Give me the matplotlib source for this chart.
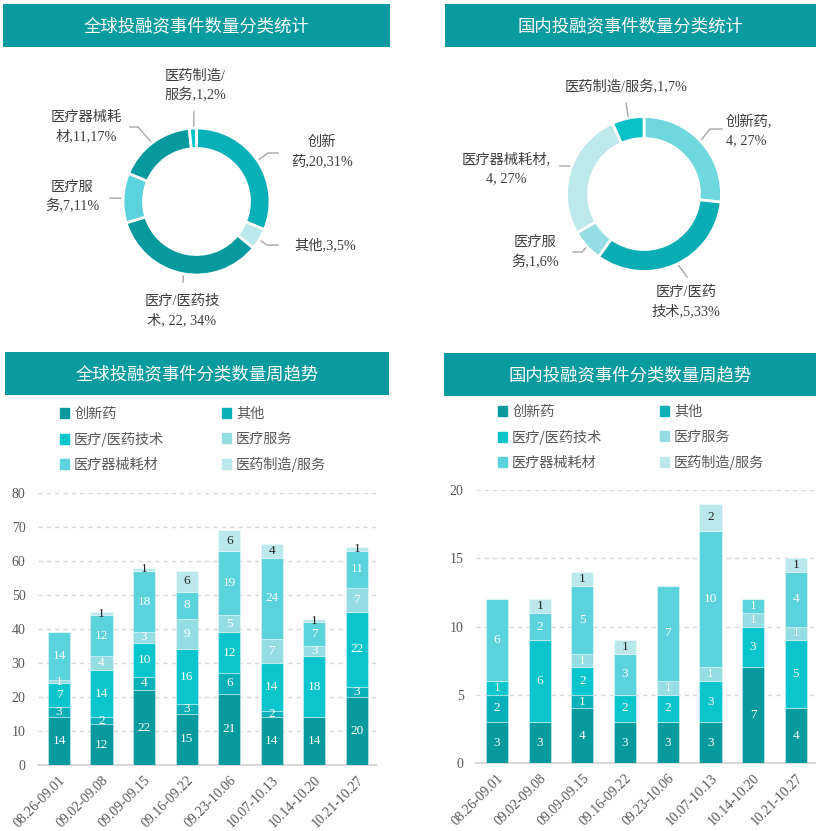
import matplotlib
matplotlib.use('Agg')
import matplotlib.pyplot as plt
from matplotlib.patches import Rectangle, Patch
import numpy as np

# ---------------- data ----------------
categories = ['创新药', '其他', '医疗/医药技术', '医疗服务', '医疗器械耗材', '医药制造/服务']
weeks = ['08.26-09.01', '09.02-09.08', '09.09-09.15', '09.16-09.22',
         '09.23-10.06', '10.07-10.13', '10.14-10.20', '10.21-10.27']

global_innov = [14, 12, 22, 15, 21, 14, 14, 20]
global_other = [3, 2, 4, 3, 6, 2, 0, 3]
global_tech = [7, 14, 10, 16, 12, 14, 18, 22]
global_service = [1, 4, 3, 9, 5, 7, 3, 7]
global_device = [14, 12, 18, 8, 19, 24, 7, 11]
global_mfg = [0, 1, 1, 6, 6, 4, 1, 1]

dom_innov = [3, 3, 4, 3, 3, 3, 7, 4]
dom_other = [2, 0, 1, 0, 0, 0, 0, 0]
dom_tech = [1, 6, 2, 2, 2, 3, 3, 5]
dom_service = [0, 0, 1, 0, 1, 1, 1, 1]
dom_device = [6, 2, 5, 3, 7, 10, 1, 4]
dom_mfg = [0, 1, 1, 1, 0, 2, 0, 1]

# donut (latest week) values
global_pie_cats = ['创新药', '其他', '医疗/医药技术', '医疗服务', '医疗器械耗材', '医药制造/服务']
global_pie_vals = [20, 3, 22, 7, 11, 1]
global_pie_labels = ['创新\n药,20,31%', '其他,3,5%', '医疗/医药技\n术, 22, 34%',
                     '医疗服\n务,7,11%', '医疗器械耗\n材,11,17%', '医药制造/\n服务,1,2%']
dom_pie_cats = ['创新药', '医疗/医药技术', '医疗服务', '医疗器械耗材', '医药制造/服务']
dom_pie_vals = [4, 5, 1, 4, 1]
dom_pie_labels = ['创新药,\n4, 27%', '医疗/医药\n技术,5,33%', '医疗服\n务,1,6%',
                  '医疗器械耗材,\n4, 27%', '医药制造/服务,1,7%']

titles = ['全球投融资事件数量分类统计', '国内投融资事件数量分类统计',
          '全球投融资事件分类数量周趋势', '国内投融资事件分类数量周趋势']

# ---------------- style ----------------
bar_colors = ['#069a9f', '#0ab0b8', '#0bc5cd', '#93dde3', '#5bd3dc', '#bae8ec']
global_pie_colors = ['#0ab0b8', '#bae8ec', '#069a9f', '#5bd3dc', '#069a9f', '#0bc5cd']
dom_pie_colors = ['#6fd8df', '#0aadb3', '#93dde3', '#bde9ed', '#0bc1c9']
banner_color = '#0a9ba0'
txt_color = '#404040'
mixfont = ['Liberation Serif', 'Noto Sans CJK SC', 'DejaVu Sans']
cjk = ['Noto Sans CJK SC', 'DejaVu Sans']

W, H = 819, 831
fig = plt.figure(figsize=(W / 100, H / 100), dpi=100)
fig.patch.set_facecolor('white')


def fbox(x0, y0, x1, y1):
    return [x0 / W, 1 - y1 / H, (x1 - x0) / W, (y1 - y0) / H]


ov = fig.add_axes([0, 0, 1, 1], zorder=0)
ov.set_xlim(0, W)
ov.set_ylim(H, 0)
ov.axis('off')

# banners
banners = [(3, 4, 390, 47), (445, 4, 816, 47), (5, 352, 389, 395), (444, 353, 816, 396)]
for (x0, y0, x1, y1), t in zip(banners, titles):
    ov.add_patch(Rectangle((x0, y0), x1 - x0, y1 - y0, color=banner_color, lw=0))
    ov.text((x0 + x1) / 2, (y0 + y1) / 2 + 1, t, color='white', fontsize=12.5,
            family=cjk, ha='center', va='center')


# ---------------- donuts ----------------
def donut(cx, cy, R, inner, vals, colors, labels, paths, tpos, aligns):
    ax = fig.add_axes(fbox(cx - R, cy - R, cx + R, cy + R), zorder=2)
    width = 1 - inner / R
    ax.pie(vals, colors=colors, startangle=90, counterclock=False, radius=1,
           wedgeprops=dict(width=width, edgecolor='white', linewidth=2))
    ax.set_xlim(-1, 1)
    ax.set_ylim(-1, 1)
    ax.set_aspect('equal')
    total = float(sum(vals))
    cum = np.cumsum([0] + list(vals))
    rmid = (R + inner) / 2
    for i, v in enumerate(vals):
        th = np.deg2rad(360 * (cum[i] + v / 2) / total)
        ax_x = cx + rmid * np.sin(th)
        ax_y = cy - rmid * np.cos(th)
        pts = [(ax_x, ax_y)] + paths[i]
        ov.plot([p[0] for p in pts], [p[1] for p in pts], color='#a6a6a6', lw=1,
                zorder=3)
        ov.text(tpos[i][0], tpos[i][1], labels[i], color=txt_color, fontsize=10.3,
                family=mixfont, ha=aligns[i], va='center', linespacing=1.5,
                multialignment=aligns[i], zorder=4)


donut(196.5, 201.5, 73.5, 53, global_pie_vals, global_pie_colors, global_pie_labels,
      [[(268, 153), (278, 153)], [(267, 245), (278, 245)], [(183, 282)],
       [(110, 198)], [(138, 127), (130, 127)], [(194, 112)]],
      [(322, 152), (325, 245), (182, 311), (72, 197), (86, 127), (195, 86)],
      ['center'] * 6)

donut(644, 194, 77.5, 55.5, dom_pie_vals, dom_pie_colors, dom_pie_labels,
      [[(710, 129), (722, 129)], [(687, 277)], [(582, 252), (573, 252)],
       [(570, 166), (560, 166)], [(626, 103)]],
      [(726, 131), (686, 302.5), (535, 252.5), (506, 169), (626, 87)],
      ['left', 'center', 'center', 'center', 'center'])


# ---------------- stacked bars ----------------
def bars(box, series, ymax, ystep, legend_xy):
    ax = fig.add_axes(fbox(*box), zorder=2)
    x = np.arange(len(weeks))
    bottom = np.zeros(len(weeks))
    handles = []
    for k, s in enumerate(series):
        s = np.array(s, dtype=float)
        ax.bar(x, s, 0.52, bottom=bottom, color=bar_colors[k],
               edgecolor=(1, 1, 1, 0.35), linewidth=0.8, zorder=3)
        for xi, (b, v) in enumerate(zip(bottom, s)):
            if v > 0:
                ax.text(xi, b + v / 2, f'{int(v)}', ha='center', va='center',
                        fontsize=9.5, family=mixfont, zorder=4,
                        color='#262626' if k == 5 else 'white')
        bottom += s
        handles.append(Patch(color=bar_colors[k]))
    ax.set_xlim(-0.493, 7.45)
    ax.set_ylim(0, ymax)
    ax.set_yticks(np.arange(0, ymax + 0.1, ystep))
    ax.set_xticks(x)
    ax.set_xticklabels(weeks, rotation=45, ha='right', va='top', rotation_mode='anchor')
    for lab in ax.get_xticklabels() + ax.get_yticklabels():
        lab.set_fontfamily(mixfont)
        lab.set_fontsize(10)
        lab.set_color('#595959')
    ax.tick_params(length=0)
    ax.tick_params(axis='y', pad=9)
    ax.tick_params(axis='x', pad=6)
    for sp in ['top', 'right', 'left']:
        ax.spines[sp].set_visible(False)
    ax.spines['bottom'].set_color('#d9d9d9')
    ax.spines['bottom'].set_linewidth(1.5)
    ax.grid(axis='y', color='#d9d9d9', lw=1, ls=(0, (3, 3)), zorder=0)
    ax.set_axisbelow(True)
    order = [0, 2, 4, 1, 3, 5]
    leg = ax.legend([handles[i] for i in order], [categories[i] for i in order],
                    ncol=2, loc='upper left',
                    bbox_to_anchor=(legend_xy[0] / W, 1 - legend_xy[1] / H),
                    bbox_transform=fig.transFigure, frameon=False,
                    handlelength=0.65, handleheight=0.65, handletextpad=0.35,
                    columnspacing=4.05, labelspacing=0.78, borderpad=0,
                    borderaxespad=0, prop={'family': cjk, 'size': 10.2})
    for t in leg.get_texts():
        t.set_color('#595959')
    return ax


bars((38, 493, 376, 765),
     [global_innov, global_other, global_tech, global_service, global_device, global_mfg],
     80, 10, (60, 407))
bars((476, 490, 815, 763),
     [dom_innov, dom_other, dom_tech, dom_service, dom_device, dom_mfg],
     20, 5, (498, 405))

fig.savefig('out.png', dpi=100, facecolor='white')
